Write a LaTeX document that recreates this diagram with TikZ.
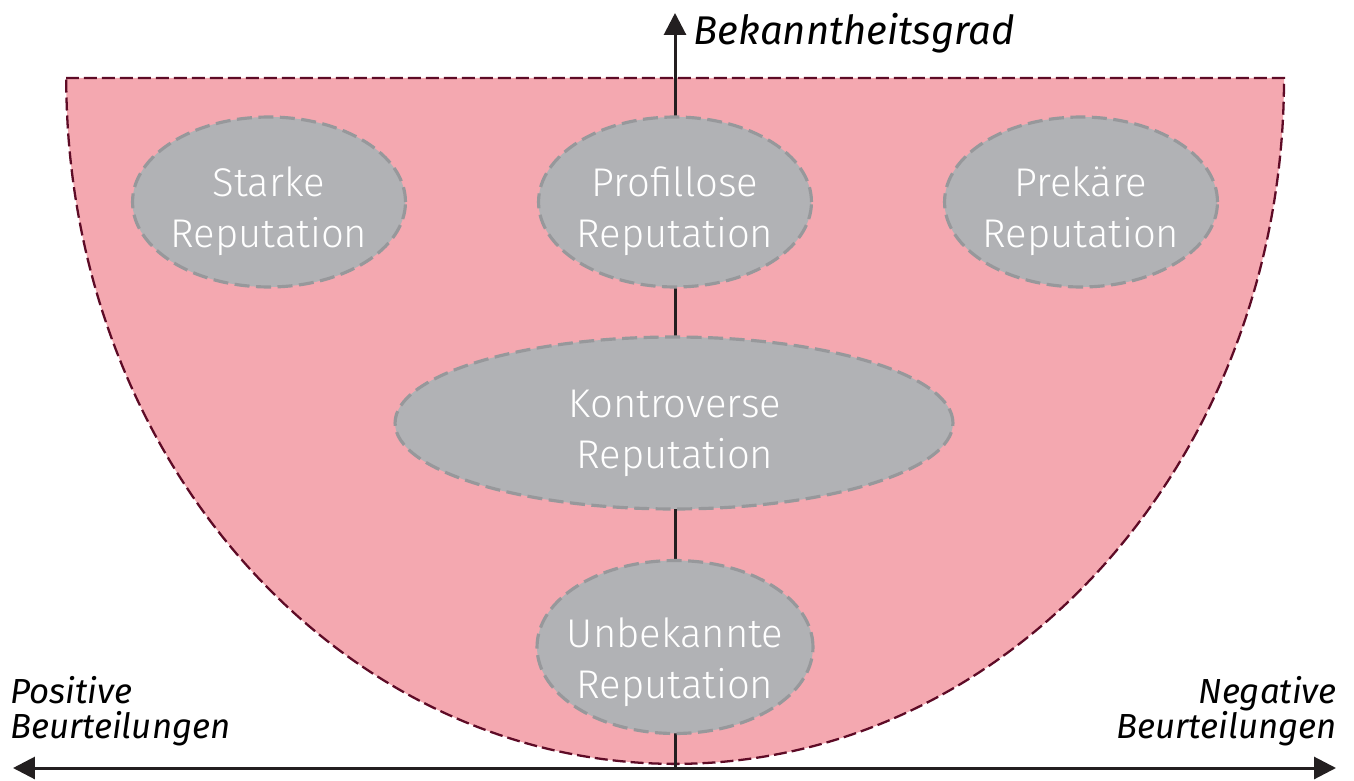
\documentclass[tikz,border=0pt]{standalone}
\usepackage{fontspec}
\IfFontExistsTF{Fira Sans Light}{%
  \setmainfont{Fira Sans Light}[ItalicFont={Fira Sans Italic}]}{%
  \setmainfont{Fira Sans}}
\usepackage{xcolor}
\usetikzlibrary{shapes, arrows.meta, positioning}

\definecolor{feld}{HTML}{F4A8B0}
\definecolor{feldrand}{HTML}{5E0B26}
\definecolor{blase}{HTML}{B1B2B5}
\definecolor{blaserand}{HTML}{97989B}
\definecolor{achsfarbe}{HTML}{231F20}

\tikzset{
  reputation/.style={ellipse, fill=blase, draw=blaserand, line width=1.8pt,
    dash pattern=on 0.3cm off 0.13cm, inner sep=0pt},
  reptext/.style={text=white, align=center, inner sep=0pt,
    font=\fontsize{22.8}{29}\selectfont},
  achse/.style={draw=achsfarbe, line width=1.7pt},
  spitze/.style={-{Triangle[length=0.44cm, width=0.44cm]}},
  achsentext/.style={inner sep=0pt, text=black}
}

\begin{document}
\begin{tikzpicture}[x=0.02cm, y=-0.02cm]
			\useasboundingbox (0,0) rectangle (1354,780);

			%% Feld
			\draw[fill=feld, draw=feldrand, line width=1.3pt, dash pattern=on 0.26cm off 0.1cm]
				(66,78) -- (1284,78)
				arc[start angle=0, end angle=-180, x radius=12.18cm, y radius=13.72cm] -- cycle;

			%% Achsen
			\coordinate (O) at (675,768);
			\coordinate (oben) at (675,13);
			\coordinate (links) at (13,768);
			\coordinate (rechts) at (1336,768);
			\draw[achse, spitze] (O) -- (oben);

			%% Reputationen
			\node[reputation, minimum width=5.46cm, minimum height=3.4cm] (starke) at (269,202) {};
			\node[reputation, minimum width=5.46cm, minimum height=3.4cm] (profillos) at (675,202) {};
			\node[reputation, minimum width=5.46cm, minimum height=3.4cm] (prekaer) at (1081,202) {};
			\node[reputation, minimum width=11.16cm, minimum height=3.44cm] (kontrovers) at (674,423) {};
			\node[reputation, minimum width=5.52cm, minimum height=3.46cm] (unbekannt) at (675,647) {};

			\node[reptext] (starke-t) at (269,211) {Starke\\Reputation};
			\node[reptext] (profillos-t) at (675,211) {Profillose\\Reputation};
			\node[reptext] (prekaer-t) at (1081,211) {Prekäre\\Reputation};
			\node[reptext] (kontrovers-t) at (675,433) {Kontroverse\\Reputation};
			\node[reptext] (unbekannt-t) at (675,662) {Unbekannte\\Reputation};

			%% Beurteilungen
			\draw[achse, {Triangle[length=0.44cm, width=0.44cm]}-{Triangle[length=0.44cm, width=0.44cm]}]
				(links) -- (rechts);

			%% Beschriftung
			\node[achsentext, anchor=base west, font=\itshape\fontsize{22.8}{29}\selectfont]
				(bekannt) at (693,45) {Bekanntheitsgrad};
			\node[achsentext, anchor=south west, align=left, font=\itshape\fontsize{19.8}{20}\selectfont]
				(positiv) at (10,746) {Positive\\Beurteilungen};
			\node[achsentext, anchor=south east, align=right, font=\itshape\fontsize{19.8}{20}\selectfont]
				(negativ) at (1337,746) {Negative\\Beurteilungen};
\end{tikzpicture}
\end{document}
